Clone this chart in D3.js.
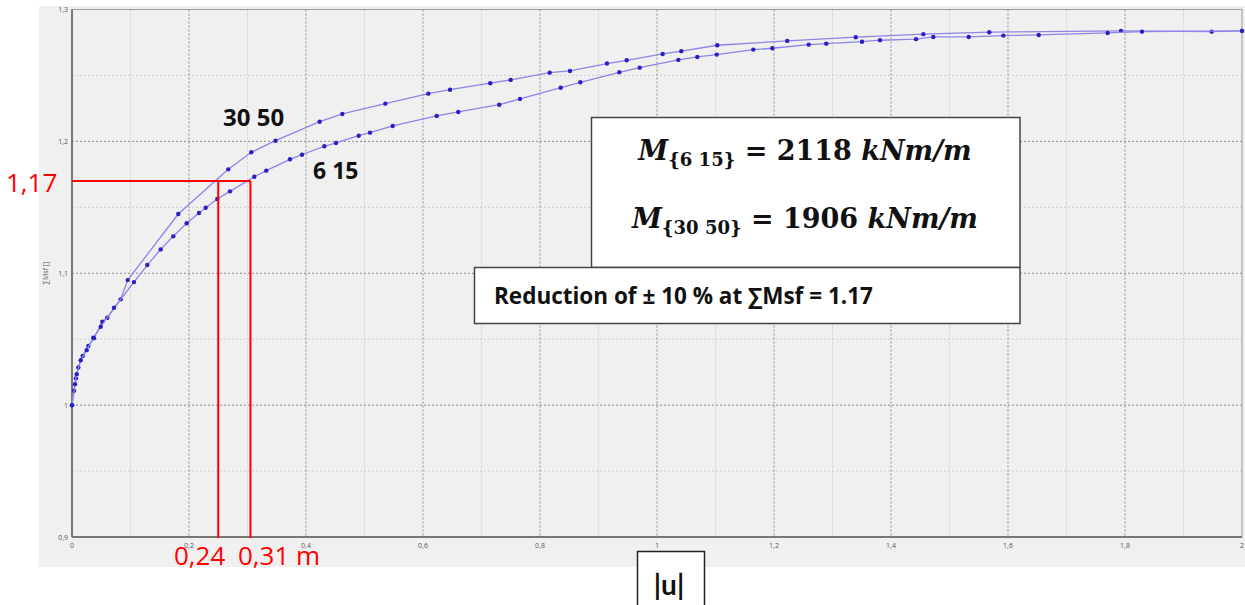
<!DOCTYPE html>
<html>
<head>
<meta charset="UTF-8">
<title>Msf vs |u|</title>
<style>
    body { margin: 0; padding: 0; background: #fff; }
    svg { display: block; font-family: "Open Sans", Arial, sans-serif; }
    .tick-label { font-size: 7px; fill: #555; }
    .grid-major { stroke: #8a8a8a; stroke-width: 1; stroke-dasharray: 2,2; }
    .grid-minor { stroke: #d0d0d0; stroke-width: 1; stroke-dasharray: 2,2; }
    .curve { fill: none; stroke: #8c84e6; stroke-width: 1.3; }
    .dot { fill: #2a1fc4; }
    .red { stroke: #ff0000; stroke-width: 2; }
    .red-label { fill: #ff0000; font-size: 26px; }
</style>
<script src="https://cdnjs.cloudflare.com/ajax/libs/d3/7.8.5/d3.min.js"></script>
</head>
<body>
<svg id="chart" width="1245" height="605"></svg>
<script>
// series "30 50" : displacement |u| (m) and sum Msf
var u3050 = [0, 0.0034, 0.0068, 0.0108, 0.0183, 0.0279, 0.0376, 0.0518, 0.0603, 0.0832, 0.0952,
    0.1817, 0.2672, 0.3065, 0.3479, 0.4234, 0.4621, 0.5356, 0.6091, 0.6462, 0.7150, 0.7499,
    0.8166, 0.8513, 0.9145, 0.9482, 1.0097, 1.0415, 1.1031, 1.2227, 1.3397, 1.4553, 1.5680,
    1.7932, 1.9482, 2.0];
var msf3050 = [1.000, 1.0109, 1.0203, 1.0286, 1.0372, 1.0448, 1.0508, 1.0632, 1.0662, 1.0802, 1.0948,
    1.1449, 1.1788, 1.1917, 1.2005, 1.2149, 1.2208, 1.2286, 1.2362, 1.2392, 1.2441, 1.2466,
    1.2521, 1.2534, 1.2590, 1.2615, 1.2663, 1.2684, 1.2729, 1.2762, 1.2790, 1.2813, 1.2828,
    1.2838, 1.2832, 1.2838];

// series "6 15"
var u615 = [0, 0.0051, 0.0080, 0.0149, 0.0251, 0.0364, 0.0491, 0.0718, 0.1060, 0.1287, 0.1516,
    0.1732, 0.1961, 0.2171, 0.2285, 0.2484, 0.2701, 0.3116, 0.3321, 0.3726, 0.3932, 0.4313,
    0.4513, 0.4901, 0.5094, 0.5482, 0.6234, 0.6603, 0.7304, 0.7658, 0.8354, 0.8689, 0.9356,
    0.9704, 1.0364, 1.0689, 1.1021, 1.1646, 1.1971, 1.2593, 1.2894, 1.3504, 1.3812, 1.4427,
    1.4723, 1.5328, 1.5920, 1.6525, 1.7704, 1.8291, 2.0];
var msf615 = [1.000, 1.0159, 1.0235, 1.0341, 1.0417, 1.0511, 1.0594, 1.0738, 1.0933, 1.1062, 1.1181,
    1.1280, 1.1379, 1.1457, 1.1497, 1.1563, 1.1621, 1.1732, 1.1778, 1.1864, 1.1899, 1.1963,
    1.1988, 1.2043, 1.2066, 1.2117, 1.2193, 1.2223, 1.2278, 1.2322, 1.2407, 1.2448, 1.2524,
    1.2559, 1.2618, 1.2640, 1.2658, 1.2696, 1.2706, 1.2734, 1.2741, 1.2756, 1.2767, 1.2775,
    1.2792, 1.2792, 1.2802, 1.2807, 1.2822, 1.2832, 1.2838];

var xTicks = [0, 0.2, 0.4, 0.6, 0.8, 1, 1.2, 1.4, 1.6, 1.8, 2];
var xMinor = [0.1, 0.3, 0.5, 0.7, 0.9, 1.1, 1.3, 1.5, 1.7, 1.9];
var yTicks = [0.9, 1, 1.1, 1.2, 1.3];
var yMinor = [0.95, 1.05, 1.15, 1.25];

// red read-off marks
var refMsf = 1.17;
var refU = [0.25, 0.305];
var refLabels = ["0,24", "0,31 m"];

var svg = d3.select("#chart");

var x = d3.scaleLinear().domain([0, 2]).range([72, 1242]);
var y = d3.scaleLinear().domain([0.9, 1.3]).range([537, 9.5]);

var comma = function(d) { return String(d).replace(".", ","); };

// grey panel
svg.append("rect")
    .attr("x", 39).attr("y", 6)
    .attr("width", 1206).attr("height", 561)
    .attr("fill", "#f0f0f0");

// grid
svg.selectAll(".gx-min").data(xMinor).enter().append("line")
    .attr("class", "grid-minor")
    .attr("x1", d => x(d)).attr("x2", d => x(d))
    .attr("y1", y(1.3)).attr("y2", y(0.9));
svg.selectAll(".gy-min").data(yMinor).enter().append("line")
    .attr("class", "grid-minor")
    .attr("x1", x(0)).attr("x2", x(2))
    .attr("y1", d => y(d)).attr("y2", d => y(d));
svg.selectAll(".gx").data(xTicks.slice(1, -1)).enter().append("line")
    .attr("class", "grid-major")
    .attr("x1", d => x(d)).attr("x2", d => x(d))
    .attr("y1", y(1.3)).attr("y2", y(0.9));
svg.selectAll(".gy").data(yTicks.slice(1, -1)).enter().append("line")
    .attr("class", "grid-major")
    .attr("x1", x(0)).attr("x2", x(2))
    .attr("y1", d => y(d)).attr("y2", d => y(d));

// frame
svg.append("rect")
    .attr("x", x(0)).attr("y", y(1.3))
    .attr("width", x(2) - x(0)).attr("height", y(0.9) - y(1.3))
    .attr("fill", "none").attr("stroke", "#9a9a9a").attr("stroke-width", 1);
svg.append("line")
    .attr("x1", x(0)).attr("x2", x(0)).attr("y1", y(1.3)).attr("y2", y(0.9))
    .attr("stroke", "#777").attr("stroke-width", 2);
svg.append("line")
    .attr("x1", x(0)).attr("x2", x(2)).attr("y1", y(0.9)).attr("y2", y(0.9))
    .attr("stroke", "#777").attr("stroke-width", 2);

// tick labels
svg.selectAll(".xl").data(xTicks).enter().append("text")
    .attr("class", "tick-label")
    .attr("x", d => x(d)).attr("y", y(0.9) + 11)
    .attr("text-anchor", "middle")
    .text(comma);
svg.selectAll(".yl").data(yTicks).enter().append("text")
    .attr("class", "tick-label")
    .attr("x", x(0) - 4).attr("y", d => y(d) + 2.5)
    .attr("text-anchor", "end")
    .text(comma);

svg.append("text")
    .attr("class", "tick-label")
    .attr("transform", "translate(48,273) rotate(-90)")
    .attr("text-anchor", "middle")
    .text("∑Msf []");

// curves
var line = d3.line()
    .x(d => x(d[0]))
    .y(d => y(d[1]));

var series = [d3.zip(u3050, msf3050), d3.zip(u615, msf615)];

series.forEach(function(pts) {
    svg.append("path").attr("class", "curve").attr("d", line(pts));
    svg.append("g").selectAll("circle").data(pts).enter().append("circle")
        .attr("class", "dot")
        .attr("cx", d => x(d[0])).attr("cy", d => y(d[1]))
        .attr("r", 2.2);
});

// curve labels
svg.append("text")
    .attr("x", 223).attr("y", 126)
    .attr("font-size", 24).attr("font-weight", "bold").attr("fill", "#111")
    .text("30 50");
svg.append("text")
    .attr("x", 313).attr("y", 179)
    .attr("font-size", 23).attr("font-weight", "bold").attr("fill", "#111")
    .text("6 15");

// red read-off lines
svg.append("line").attr("class", "red")
    .attr("x1", x(0)).attr("x2", x(refU[1]))
    .attr("y1", y(refMsf)).attr("y2", y(refMsf));
svg.selectAll(".rv").data(refU).enter().append("line")
    .attr("class", "red")
    .attr("x1", d => x(d)).attr("x2", d => x(d))
    .attr("y1", y(refMsf)).attr("y2", y(0.9) + 1);

svg.append("text").attr("class", "red-label")
    .attr("x", 6).attr("y", 192)
    .text("1,17");
svg.append("text").attr("class", "red-label")
    .attr("x", 174).attr("y", 565)
    .text(refLabels[0]);
svg.append("text").attr("class", "red-label")
    .attr("x", 238).attr("y", 565)
    .text(refLabels[1]);

// equation box
svg.append("rect")
    .attr("x", 591.5).attr("y", 117.5).attr("width", 428.5).attr("height", 150)
    .attr("fill", "#fff").attr("stroke", "#444").attr("stroke-width", 1.5);

var eq = [
    { sub: "{6 15}", val: "2118", y: 160 },
    { sub: "{30 50}", val: "1906", y: 228 }
];
eq.forEach(function(e) {
    var t = svg.append("text")
        .attr("x", 805).attr("y", e.y)
        .attr("text-anchor", "middle")
        .attr("font-family", "'DejaVu Serif', 'Liberation Serif', serif")
        .attr("font-weight", "bold")
        .attr("font-size", 27)
        .attr("fill", "#111");
    t.append("tspan").attr("font-style", "italic").text("M");
    t.append("tspan").attr("font-size", 18).attr("dy", 6).text(e.sub);
    t.append("tspan").attr("dy", -6).text(" = " + e.val + " ");
    t.append("tspan").attr("font-style", "italic").text("kNm/m");
});

// reduction box
svg.append("rect")
    .attr("x", 474.5).attr("y", 267.5).attr("width", 545.5).attr("height", 56)
    .attr("fill", "#fff").attr("stroke", "#444").attr("stroke-width", 1.5);
svg.append("text")
    .attr("x", 494).attr("y", 304)
    .attr("font-weight", "bold").attr("font-size", 22.5).attr("fill", "#111")
    .text("Reduction of ± 10 % at ∑Msf = 1.17");

// axis title box
svg.append("rect")
    .attr("x", 637.5).attr("y", 551.5).attr("width", 67).attr("height", 60)
    .attr("fill", "#fff").attr("stroke", "#222").attr("stroke-width", 1.5);
svg.append("text")
    .attr("x", 669).attr("y", 595)
    .attr("text-anchor", "middle")
    .attr("font-family", "Lato, sans-serif")
    .attr("font-size", 28).attr("font-weight", "bold").attr("fill", "#111")
    .text("|u|");
</script>
</body>
</html>
